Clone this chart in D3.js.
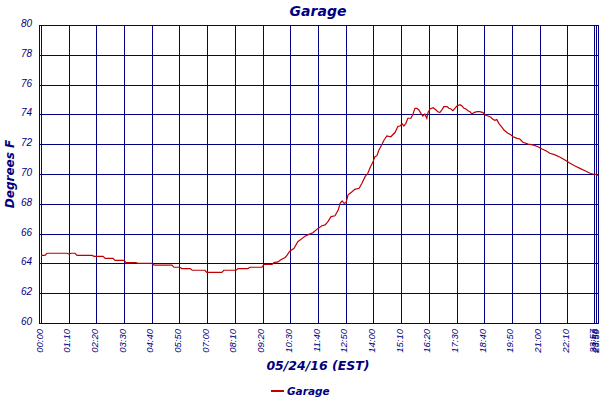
<!DOCTYPE html>
<html>
<head>
<meta charset="utf-8">
<script src="https://cdn.jsdelivr.net/npm/d3@7"></script>
<style>
	body {margin: 0; background: #fff;}
	svg {display: block;}
</style>
</head>
<body>
<svg id="chart" width="600" height="400"></svg>
<script>
// readings, minutes after midnight
var sampleMinutes = [
	0, 10, 15, 66, 71, 76, 86, 91, 129, 134, 157, 162, 182, 187, 210, 215, 240, 245, 280, 286,
	331, 336, 351, 356, 377, 382, 414, 419, 457, 462, 493, 498, 523, 528, 558, 564, 584, 589, 599, 605,
	617, 622, 629, 639, 649, 660, 667, 677, 687, 700, 710, 718, 725, 733, 743, 751, 756, 761, 766, 771,
	776, 786, 793, 804, 811, 819, 826, 831, 839, 844, 849, 854, 862, 867, 874, 884, 895, 902, 907, 913,
	917, 922, 927, 935, 940, 945, 950, 955, 960, 965, 970, 975, 978, 983, 991, 996, 1003, 1008, 1013, 1018,
	1026, 1031, 1036, 1041, 1046, 1051, 1059, 1064, 1069, 1074, 1079, 1084, 1089, 1094, 1102, 1109, 1117, 1122, 1130, 1137,
	1142, 1147, 1152, 1157, 1165, 1170, 1175, 1180, 1188, 1193, 1203, 1210, 1218, 1231, 1243, 1256, 1266, 1276, 1286, 1299,
	1312, 1324, 1341, 1361, 1380, 1400, 1420, 1432, 1438, 1439];
var garageTemps = [
	64.54, 64.54, 64.68, 64.68, 64.63, 64.68, 64.68, 64.54, 64.54, 64.47, 64.47, 64.34, 64.34, 64.2, 64.2, 64.05, 64.05, 64.0, 64.0, 63.89,
	63.89, 63.74, 63.74, 63.65, 63.65, 63.54, 63.54, 63.40, 63.40, 63.54, 63.54, 63.65, 63.65, 63.74, 63.74, 63.94, 63.94, 64.05, 64.1, 64.23,
	64.4, 64.56, 64.83, 65.0, 65.46, 65.68, 65.82, 65.95, 66.06, 66.35, 66.53, 66.58, 66.8, 67.14, 67.2, 67.58, 68.03, 68.19, 68.03, 68.08,
	68.6, 68.81, 68.97, 69.04, 69.38, 69.82, 70.05, 70.38, 70.83, 71.16, 71.23, 71.61, 72.01, 72.28, 72.55, 72.5, 72.8, 73.2, 73.22, 73.36,
	73.22, 73.40, 73.74, 73.74, 74.03, 74.41, 74.41, 74.30, 74.07, 73.89, 74.03, 73.74, 74.12, 74.36, 74.45, 74.34, 74.18, 74.12, 74.3, 74.52,
	74.52, 74.41, 74.36, 74.25, 74.41, 74.56, 74.65, 74.56, 74.41, 74.36, 74.25, 74.18, 74.03, 74.12, 74.18, 74.18, 74.12, 73.96, 73.89, 73.81,
	73.67, 73.60, 73.65, 73.40, 73.13, 72.95, 72.84, 72.73, 72.62, 72.5, 72.39, 72.35, 72.13, 72.01, 71.95, 71.83, 71.68, 71.56, 71.39, 71.28,
	71.12, 70.94, 70.72, 70.54, 70.38, 70.22, 70.05, 70.0, 69.98, 69.89];

var timeTicks = ['00:00', '01:10', '02:20', '03:30', '04:40', '05:50', '07:00', '08:10', '09:20', '10:30',
	'11:40', '12:50', '14:00', '15:10', '16:20', '17:30', '18:40', '19:50', '21:00', '22:10',
	'23:57', '23:58', '23:59'];
var tempTicks = [60, 62, 64, 66, 68, 70, 72, 74, 76, 78, 80];

var chartTitle = 'Garage';
var xTitle = '05/24/16 (EST)';
var yTitle = 'Degrees F';
var seriesName = 'Garage';

(function() {
	'use strict';

	var navy = '#000080';
	var red = '#c00000';
	var left = 41, right = 597.7, top = 25, bottom = 323;

	function toMinutes(s) {
		var p = s.split(':');
		return (+p[0]) * 60 + (+p[1]);}

	// the source axis is laid out by sample, so the last stretch is squeezed
	var x = d3.scaleLinear()
		.domain([0, toMinutes('22:10'), toMinutes('23:57'), toMinutes('23:59')])
		.range([left, 567.3, 594.3, right]);
	var y = d3.scaleLinear().domain([60, 80]).range([bottom, top]);

	var svg = d3.select('#chart');
	var data = sampleMinutes.map(function(m, i) {return {m: m, t: garageTemps[i]};});

	// grid
	var grid = svg.append('g')
		.attr('stroke', navy)
		.attr('stroke-width', 1)
		.attr('shape-rendering', 'crispEdges');
	grid.selectAll('.hg').data(tempTicks)
		.enter().append('line')
		.attr('x1', 39).attr('x2', right)
		.attr('y1', function(d) {return Math.round(y(d)) + 0.5;})
		.attr('y2', function(d) {return Math.round(y(d)) + 0.5;});
	grid.selectAll('.vg').data(timeTicks)
		.enter().append('line')
		.attr('x1', function(d) {return Math.round(x(toMinutes(d))) + 0.5;})
		.attr('x2', function(d) {return Math.round(x(toMinutes(d))) + 0.5;})
		.attr('y1', top).attr('y2', bottom + 0.5);
	grid.append('line')
		.attr('x1', 39.5).attr('x2', 39.5)
		.attr('y1', top).attr('y2', bottom + 0.5);

	// y tick labels
	svg.append('g').selectAll('text').data(tempTicks)
		.enter().append('text')
		.attr('x', 32)
		.attr('y', function(d) {return y(d) + 2;})
		.attr('text-anchor', 'end')
		.attr('font-family', 'Liberation Sans, Arial, sans-serif')
		.attr('font-style', 'italic')
		.attr('font-size', 10)
		.attr('fill', navy)
		.text(function(d) {return d;});

	// x tick labels, rotated
	svg.append('g').selectAll('text').data(timeTicks)
		.enter().append('text')
		.attr('transform', function(d) {
			return 'translate(' + (x(toMinutes(d)) + 1.5) + ',329) rotate(-90)';})
		.attr('text-anchor', 'end')
		.attr('font-family', 'Liberation Sans, Arial, sans-serif')
		.attr('font-style', 'italic')
		.attr('font-size', 9.5)
		.attr('fill', navy)
		.text(function(d) {return d;});

	// series
	var line = d3.line()
		.x(function(d) {return x(d.m);})
		.y(function(d) {return y(d.t);});
	svg.append('path')
		.datum(data)
		.attr('d', line)
		.attr('fill', 'none')
		.attr('stroke', red)
		.attr('stroke-width', 1.2);

	var titleFont = 'DejaVu Sans, Verdana, sans-serif';

	svg.append('text')
		.attr('x', 318).attr('y', 16)
		.attr('text-anchor', 'middle')
		.attr('font-family', titleFont)
		.attr('font-weight', 'bold')
		.attr('font-style', 'italic')
		.attr('font-size', 14)
		.attr('fill', navy)
		.text(chartTitle);

	svg.append('text')
		.attr('x', 318).attr('y', 370)
		.attr('text-anchor', 'middle')
		.attr('font-family', titleFont)
		.attr('font-weight', 'bold')
		.attr('font-style', 'italic')
		.attr('font-size', 12.5)
		.attr('fill', navy)
		.text(xTitle);

	svg.append('text')
		.attr('transform', 'translate(14,' + ((top + bottom) / 2) + ') rotate(-90)')
		.attr('text-anchor', 'middle')
		.attr('font-family', titleFont)
		.attr('font-weight', 'bold')
		.attr('font-style', 'italic')
		.attr('font-size', 12)
		.attr('fill', navy)
		.text(yTitle);

	// legend
	var legend = svg.append('g').attr('transform', 'translate(271,391)');
	legend.append('line')
		.attr('x1', 0).attr('x2', 13)
		.attr('y1', 0).attr('y2', 0)
		.attr('stroke', red)
		.attr('stroke-width', 2);
	legend.append('text')
		.attr('x', 16).attr('y', 3.5)
		.attr('font-family', titleFont)
		.attr('font-weight', 'bold')
		.attr('font-style', 'italic')
		.attr('font-size', 10.5)
		.attr('fill', navy)
		.text(seriesName);
})();
</script>
</body>
</html>
